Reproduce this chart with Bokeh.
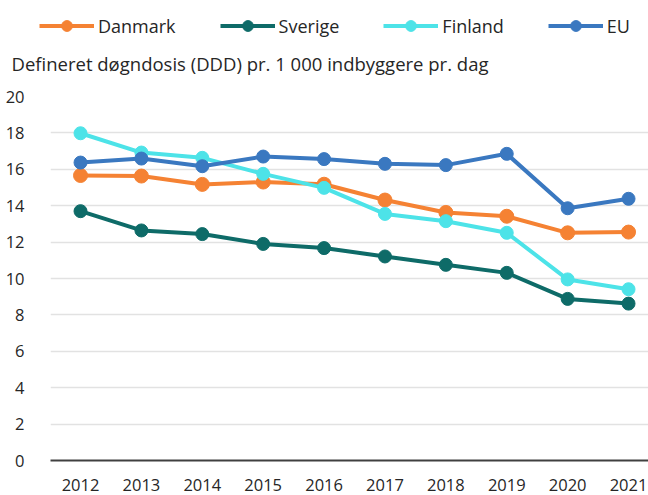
from bokeh.plotting import figure
from bokeh.models import Range1d, Legend, LegendItem, FixedTicker, Label
from bokeh.embed import file_html
from bokeh.resources import INLINE

years = [2012, 2013, 2014, 2015, 2016, 2017, 2018, 2019, 2020, 2021]
danmark = [15.66, 15.63, 15.17, 15.3, 15.18, 14.31, 13.63, 13.42, 12.51, 12.55]
sverige = [13.7, 12.64, 12.44, 11.9, 11.67, 11.21, 10.75, 10.31, 8.88, 8.62]
finland = [17.98, 16.92, 16.63, 15.75, 14.98, 13.55, 13.15, 12.51, 9.95, 9.41]
eu = [16.37, 16.59, 16.17, 16.7, 16.56, 16.3, 16.23, 16.85, 13.86, 14.38]
y_ticks = [0, 2, 4, 6, 8, 10, 12, 14, 16, 18, 20]
y_title = "Defineret døgndosis (DDD) pr. 1 000 indbyggere pr. dag"

series = [
    ("Danmark", danmark, "#F58233", 14),
    ("Sverige", sverige, "#0E6B68", 13),
    ("Finland", finland, "#4DE3E8", 13),
    ("EU", eu, "#3A78C0", 13),
]

FONT = "Open Sans"
TXT = "#262626"
TOP_H = 80

# ---- header figure: legend + y-axis title ----
top = figure(width=648, height=TOP_H, x_range=Range1d(0, 648), y_range=Range1d(TOP_H, 0),
             output_backend="svg", toolbar_location=None, title=None,
             x_axis_location=None, y_axis_location=None,
             min_border_left=0, min_border_right=0, min_border_top=0, min_border_bottom=0)
top.xgrid.visible = False
top.ygrid.visible = False
top.outline_line_color = None

items = []
for name, vals, color, size in series:
    # same series; they fall outside this header's ranges, only the legend shows them
    l = top.line(years, vals, line_color=color, line_width=4)
    s = top.scatter(years, vals, size=size, fill_color=color, line_color=color)
    items.append(LegendItem(label=name, renderers=[l, s]))

legend = Legend(items=items, orientation="horizontal", location=(39, 41),
                glyph_width=55, glyph_height=27, label_standoff=4, spacing=44,
                padding=0, margin=0, border_line_alpha=0, background_fill_alpha=0,
                label_text_font=FONT, label_text_font_size="18px",
                label_text_color=TXT)
top.add_layout(legend, "center")

top.add_layout(Label(x=11, y=63, text=y_title, text_baseline="middle", text_align="left",
                     text_font=FONT, text_font_size="18.5px", text_color=TXT))

# ---- main chart ----
p = figure(width=648, height=495 - TOP_H,
           x_range=Range1d(2011.507, 2021.328), y_range=Range1d(0, 20),
           output_backend="svg", toolbar_location=None, title=None,
           min_border_left=50, min_border_right=0,
           min_border_bottom=35, min_border_top=96 - TOP_H)

p.outline_line_color = None
p.xgrid.grid_line_color = None
p.ygrid.grid_line_color = "#E2E2E2"
p.ygrid.grid_line_width = 1.5

p.xaxis.ticker = FixedTicker(ticks=years)
p.yaxis.ticker = FixedTicker(ticks=y_ticks)
for ax in (p.xaxis[0], p.yaxis[0]):
    ax.major_tick_line_color = None
    ax.minor_tick_line_color = None
    ax.major_label_text_font = FONT
    ax.major_label_text_font_size = "16.5px"
    ax.major_label_text_color = TXT
p.yaxis.axis_line_color = None
p.yaxis.major_label_standoff = 20
p.xaxis.axis_line_color = "#404040"
p.xaxis.axis_line_width = 2
p.xaxis.major_label_standoff = 12

for name, vals, color, size in series:
    p.line(years, vals, line_color=color, line_width=4)
    p.scatter(years, vals, size=size, fill_color=color, line_color=color)

open("out.html", "w").write(file_html([top, p], INLINE))
